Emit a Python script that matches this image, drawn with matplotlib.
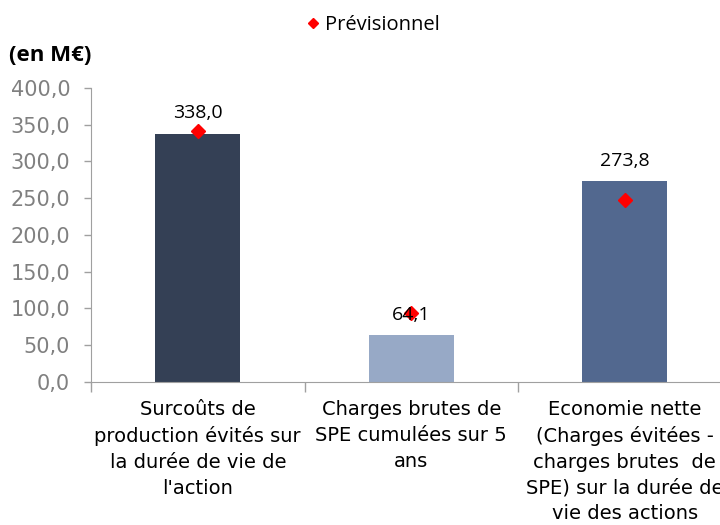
import numpy as np
import matplotlib.pyplot as plt

categories = [
    "Surcoûts de\nproduction évités sur\nla durée de vie de\nl'action",
    "Charges brutes de\nSPE cumulées sur 5\nans",
    "Economie nette\n(Charges évitées -\ncharges brutes  de\nSPE) sur la durée de\nvie des actions",
]
realise = [338.0, 64.1, 273.8]
previsionnel = [341.0, 94.0, 248.0]
colors = ['#344055', '#97a9c6', '#52688f']

fig = plt.figure(figsize=(7.2, 5.25), dpi=100)
ax = fig.add_axes([0.1264, 0.2724, 0.8896, 0.56])

x = np.arange(len(categories))
ax.bar(x, realise, width=0.4, color=colors, zorder=2)
ax.plot(x, previsionnel, linestyle='none', marker='D', color='#ff0000',
        markersize=7, label='Prévisionnel', zorder=3)

for xi, v in zip(x, realise):
    ax.annotate(f"{v:.1f}".replace('.', ','), (xi, v), xytext=(0, 8),
                textcoords='offset points', ha='center', va='bottom',
                fontsize=14, family='Open Sans')

ax.set_xlim(-0.5, 2.5)
ax.set_ylim(0, 400)
ax.set_yticks(np.arange(0, 401, 50))
ax.set_yticklabels([f"{t:.1f}".replace('.', ',') for t in np.arange(0, 401, 50)])
ax.tick_params(axis='y', colors='#a0a0a0', labelcolor='#808080', labelsize=15,
               length=5, width=1, pad=10)

ax.set_xticks(x)
ax.set_xticklabels(categories, fontsize=14, linespacing=1.45)
ax.set_xticks([-0.5, 0.5, 1.5, 2.5], minor=True)
ax.tick_params(axis='x', which='major', length=0, pad=13)
ax.tick_params(axis='x', which='minor', length=7, color='#a0a0a0', width=1)

for s in ['top', 'right']:
    ax.spines[s].set_visible(False)
for s in ['left', 'bottom']:
    ax.spines[s].set_color('#a0a0a0')

fig.text(0.012, 0.895, '(en M€)', fontsize=16, fontweight='bold',
         family='Open Sans', va='center')

ax.legend(loc='center', bbox_to_anchor=(370 / 720, 1 - 25 / 525),
          bbox_transform=fig.transFigure, frameon=False,
          handletextpad=0.0, handlelength=1.2, markerscale=0.8,
          prop={'family': 'Open Sans', 'size': 14.5})

fig.savefig('out.png', dpi=100)
